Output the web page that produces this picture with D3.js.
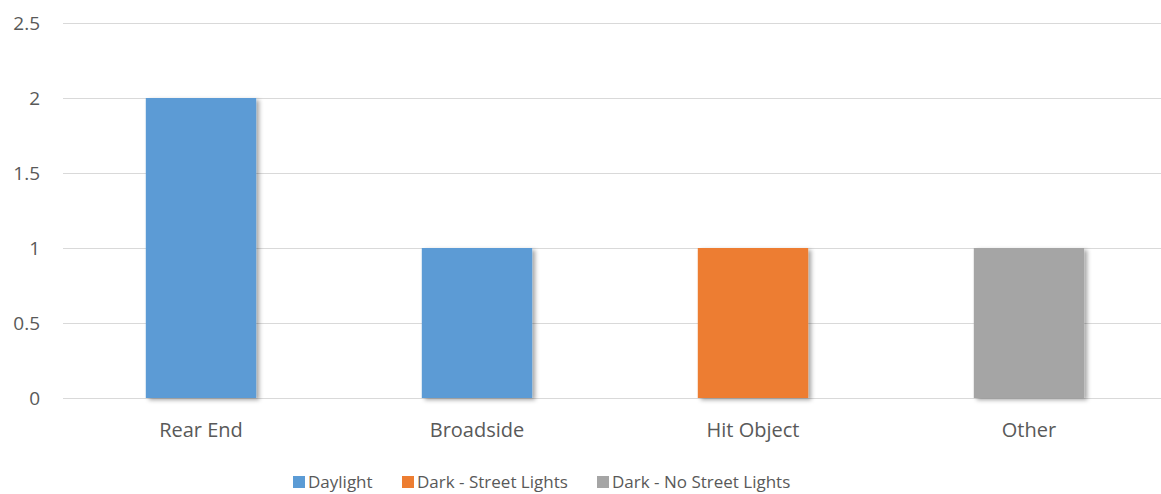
<!DOCTYPE html>
<html>
<head>
<meta charset="utf-8">
<script src="https://cdn.jsdelivr.net/npm/d3@7"></script>
<style>
  body { margin: 0; background: #fff; }
  text { font-family: "Open Sans", "Liberation Sans", sans-serif; fill: #595959; }
</style>
</head>
<body>
<svg width="1161" height="494"></svg>
<script>
// Chart data
const categories = ['Rear End', 'Broadside', 'Hit Object', 'Other'];
const seriesNames = ['Daylight', 'Dark - Street Lights', 'Dark - No Street Lights'];
const daylight = [2, 1, 0, 0];
const darkStreetLights = [0, 0, 1, 0];
const darkNoStreetLights = [0, 0, 0, 1];
const yTicks = [0, 0.5, 1, 1.5, 2, 2.5];
const colors = ['#5b9bd5', '#ed7d31', '#a5a5a5'];

const svg = d3.select('svg');
const width = +svg.attr('width');
const margin = { top: 23, left: 63 };
const plotBottom = 398;

// Build rows for stacking
const rows = categories.map((c, i) => ({
  cat: c,
  [seriesNames[0]]: daylight[i],
  [seriesNames[1]]: darkStreetLights[i],
  [seriesNames[2]]: darkNoStreetLights[i],
}));
const stacked = d3.stack().keys(seriesNames)(rows);

const x = d3.scaleBand().domain(categories).range([margin.left, margin.left + 1104]);
const y = d3.scaleLinear().domain([0, 2.5]).range([plotBottom, margin.top]);
const barW = x.bandwidth() * 0.4;

// Drop shadow filter
const defs = svg.append('defs');
const f = defs.append('filter').attr('id', 'shadow')
  .attr('x', '-20%').attr('y', '-20%').attr('width', '140%').attr('height', '140%');
f.append('feDropShadow').attr('dx', 3).attr('dy', 2).attr('stdDeviation', 2)
  .attr('flood-color', '#000').attr('flood-opacity', 0.35);

// Gridlines
svg.append('g').selectAll('line').data(yTicks).join('line')
  .attr('x1', margin.left).attr('x2', width)
  .attr('y1', (d) => Math.round(y(d)) + 0.5).attr('y2', (d) => Math.round(y(d)) + 0.5)
  .attr('stroke', '#d9d9d9').attr('stroke-width', 1);

// Y labels
svg.append('g').selectAll('text').data(yTicks).join('text')
  .attr('x', 40).attr('y', (d) => y(d)).attr('dy', '0.35em')
  .attr('text-anchor', 'end').attr('font-size', '19px')
  .text((d) => d);

// Bars
svg.append('g').selectAll('g').data(stacked).join('g')
  .attr('fill', (d, i) => colors[i])
  .selectAll('rect').data((d) => d.filter((p) => p[1] - p[0] > 0)).join('rect')
  .attr('x', (d) => x(d.data.cat) + (x.bandwidth() - barW) / 2)
  .attr('y', (d) => y(d[1]))
  .attr('width', barW)
  .attr('height', (d) => y(d[0]) - y(d[1]))
  .attr('filter', 'url(#shadow)');

// X labels
svg.append('g').selectAll('text').data(categories).join('text')
  .attr('x', (d) => x(d) + x.bandwidth() / 2).attr('y', 437)
  .attr('text-anchor', 'middle').attr('font-size', '20px')
  .text((d) => d);

// Legend
const legendX = [293, 402, 597];
const legend = svg.append('g').selectAll('g').data(seriesNames).join('g')
  .attr('transform', (d, i) => `translate(${legendX[i]},476)`);
legend.append('rect').attr('width', 12).attr('height', 12).attr('fill', (d, i) => colors[i]);
legend.append('text').attr('x', 15).attr('y', 12)
  .attr('font-size', '17px').text((d) => d);
</script>
</body>
</html>
